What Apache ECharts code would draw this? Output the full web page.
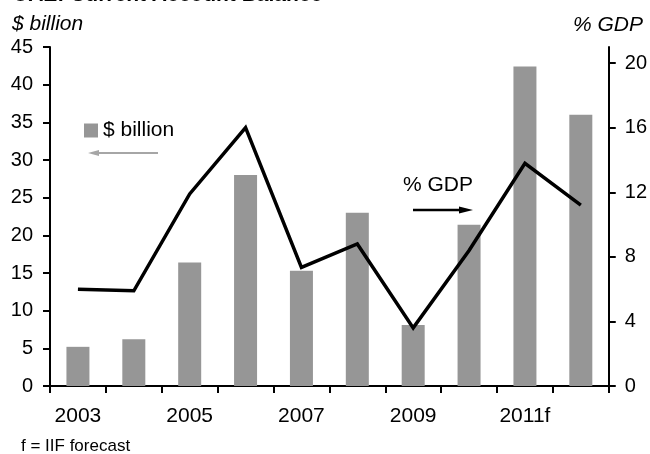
<!DOCTYPE html>
<html>
<head>
<meta charset="utf-8">
<style>
  html, body { margin: 0; padding: 0; background: #ffffff; }
  #chart { width: 650px; height: 454px; }
</style>
<script src="https://cdn.jsdelivr.net/npm/echarts@6/dist/echarts.min.js"></script>
</head>
<body>
<div id="chart"></div>
<script>
// UAE current account balance, 2003-2012 (2011-2012 are IIF forecasts)
const years = ['2003', '2004', '2005', '2006', '2007', '2008', '2009', '2010', '2011f', '2012f'];
const balanceBn = [5.2, 6.2, 16.4, 28.0, 15.3, 23.0, 8.1, 21.4, 42.4, 36.0];
const balancePctGdp = [6.0, 5.9, 11.9, 16.0, 7.35, 8.8, 3.6, 8.4, 13.8, 11.2];
const leftTicks = [0, 5, 10, 15, 20, 25, 30, 35, 40, 45];
const rightTicks = [0, 4, 8, 12, 16, 20];

const FONT = '"Liberation Sans", Arial, Helvetica, sans-serif';
const chart = echarts.init(document.getElementById('chart'), null, { renderer: 'canvas' });

// small helper: horizontal arrow as a line plus a triangular head
function arrow(x1, x2, y, color, width, headLen, headHalf) {
  const dir = x2 > x1 ? 1 : -1;
  const baseX = x2 - dir * headLen;
  return [
    { type: 'line', shape: { x1: x1, y1: y, x2: baseX, y2: y },
      style: { stroke: color, lineWidth: width }, silent: true },
    { type: 'polygon', shape: { points: [[x2, y], [baseX, y - headHalf], [baseX, y + headHalf]] },
      style: { fill: color }, silent: true }
  ];
}

chart.setOption({
  backgroundColor: '#ffffff',
  animation: false,
  textStyle: { fontFamily: FONT },
  grid: { left: 50, right: 40, top: 47, bottom: 68, containLabel: false },
  legend: {
    data: ['$ billion'],
    left: 84, top: 120,
    padding: 0,
    icon: 'rect', itemWidth: 14, itemHeight: 14,
    selectedMode: false,
    textStyle: { fontFamily: FONT, fontSize: 21, color: '#000000' }
  },
  xAxis: {
    type: 'category',
    data: years,
    boundaryGap: true,
    axisLine: { lineStyle: { color: '#000000', width: 2 } },
    axisTick: { show: true, inside: false, length: 7, interval: 0, lineStyle: { color: '#000000', width: 2 } },
    axisLabel: { interval: 1, margin: 20, color: '#000000', fontSize: 21, fontFamily: FONT }
  },
  yAxis: [
    {
      type: 'value', min: 0, max: 45, interval: 5, position: 'left',
      axisLine: { show: true, lineStyle: { color: '#000000', width: 2 } },
      axisTick: { show: true, inside: false, length: 7, lineStyle: { color: '#000000', width: 2 }, customValues: leftTicks },
      axisLabel: { margin: 17, color: '#000000', fontSize: 20, fontFamily: FONT, customValues: leftTicks },
      splitLine: { show: false }
    },
    {
      type: 'value', min: 0, max: 21, interval: 4, position: 'right',
      axisLine: { show: true, lineStyle: { color: '#000000', width: 2 } },
      axisTick: { show: true, inside: false, length: 7, lineStyle: { color: '#000000', width: 2 }, customValues: rightTicks },
      axisLabel: { margin: 16, color: '#000000', fontSize: 20, fontFamily: FONT, customValues: rightTicks },
      splitLine: { show: false }
    }
  ],
  series: [
    {
      name: '$ billion',
      type: 'bar',
      yAxisIndex: 0,
      data: balanceBn,
      barWidth: 23,
      itemStyle: { color: '#969696' }
    },
    {
      name: '% GDP',
      type: 'line',
      yAxisIndex: 1,
      data: balancePctGdp,
      symbol: 'none',
      lineStyle: { color: '#000000', width: 3.5, join: 'miter' },
      z: 5
    }
  ],
  graphic: [
    { type: 'text', left: 13, top: -15,
      style: { text: 'UAE: Current Account Balance', font: 'bold 21px ' + FONT, fill: '#000000' } },
    { type: 'text', left: 12, top: 14,
      style: { text: '$ billion', font: 'italic 21px ' + FONT, fill: '#000000' } },
    { type: 'text', left: 573, top: 15,
      style: { text: '% GDP', font: 'italic 21px ' + FONT, fill: '#000000' } },
    { type: 'text', left: 403, top: 175,
      style: { text: '% GDP', font: '21px ' + FONT, fill: '#000000' } },
    { type: 'text', left: 21, top: 438,
      style: { text: 'f = IIF forecast', font: '17px ' + FONT, fill: '#000000' } }
  ]
    .concat(arrow(158, 88, 153, '#a6a6a6', 2, 11, 3))
    .concat(arrow(413, 473, 210, '#000000', 2.5, 14, 3.5))
});
</script>
</body>
</html>
